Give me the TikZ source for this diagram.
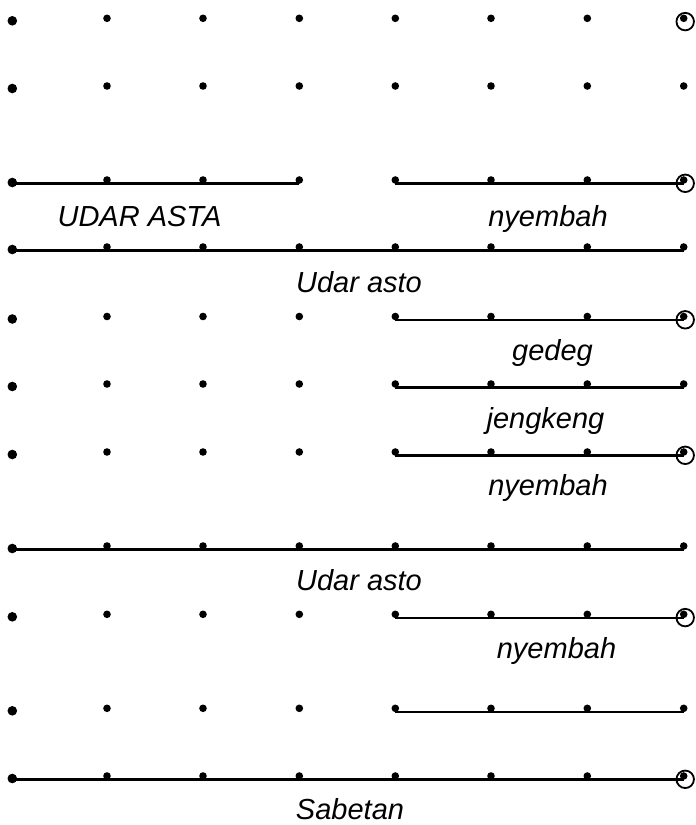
\documentclass[tikz,border=0pt]{standalone}
\usepackage{fontspec}
\setmainfont{Liberation Sans}
\begin{document}
\begin{tikzpicture}[x=1pt,y=-1pt,
  dotsm/.style={circle,fill=black,inner sep=0pt,minimum size=7.6pt},
  dotbig/.style={circle,fill=black,inner sep=0pt,minimum size=9.6pt},
  ring/.style={circle,draw=black,line width=1.8pt,inner sep=0pt,minimum size=17.5pt},
  seg/.style={line width=2.3pt},
  lbl/.style={anchor=base,inner sep=0pt,font=\fontsize{29}{34}\selectfont\itshape}]
\useasboundingbox (0,0) rectangle (696,825);
\foreach \r/\y in {1/18.3,2/86,3/180,4/247,5/316.5,6/384,7/452,8/546,9/614.3,10/708.3,11/776}{
  \node[dotbig] (d\r-1) at (12.3,\y+2.5) {};
  \foreach \c/\x in {2/107,3/203,4/299.3,5/395.3,6/491,7/587.3,8/683.7}
    \node[dotsm] (d\r-\c) at (\x,\y) {};
}
% full-width lines
\foreach \r in {4,8,11}
  \draw[seg] ([yshift=-1pt]d\r-1.center) -- ([yshift=-3.5pt]d\r-8.center);
% left half line in row 3
\draw[seg] ([yshift=-1pt]d3-1.center) -- ([yshift=-3.5pt]d3-4.center);
% right half lines
\foreach \r in {3,5,6,7,9,10}
  \draw[seg] ([yshift=-3.5pt]d\r-5.center) -- ([yshift=-3.5pt]d\r-8.center);
% rings
\foreach \r in {1,3,5,7,9,11}
  \node[ring] (c\r) at ([xshift=1.5pt,yshift=-3.3pt]d\r-8.center) {};
% labels
\node[lbl] (l1) at (139.5,226.7) {UDAR ASTA};
\node[lbl] (l2) at (548,226) {nyembah};
\node[lbl] (l3) at (359,292.7) {Udar asto};
\node[lbl] (l4) at (552.5,360.7) {gedeg};
\node[lbl] (l5) at (545.5,428) {jengkeng};
\node[lbl] (l6) at (548,495) {nyembah};
\node[lbl] (l7) at (359,590) {Udar asto};
\node[lbl] (l8) at (556.5,658) {nyembah};
\node[lbl] (l9) at (350,819) {Sabetan};
\end{tikzpicture}
\end{document}
